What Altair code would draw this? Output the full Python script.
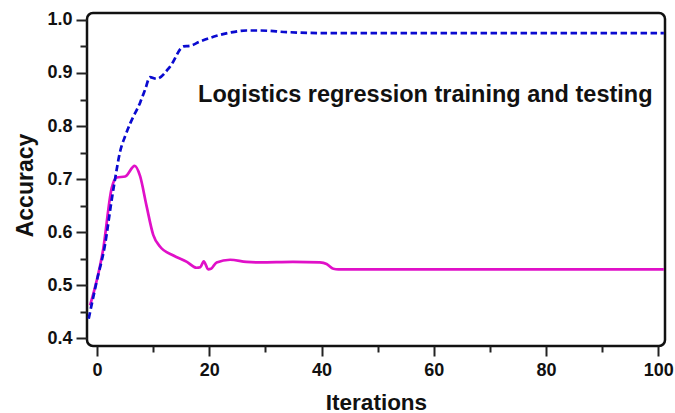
import altair as alt
import pandas as pd

# ---- data ----
train_iter = [-1.5, -0.1, 1.4, 2.6, 3.2, 4.1, 5.0, 5.9, 7.7, 8.6, 9.4, 10.6,
              13.0, 15.4, 16.5, 18.3, 21.3, 23.7, 26.6, 29.0, 33.8, 40.9,
              50, 60, 70, 80, 90, 101]
train_acc = [0.437, 0.506, 0.576, 0.661, 0.700, 0.752, 0.781, 0.805, 0.845, 0.870,
             0.892, 0.889, 0.912, 0.950, 0.951, 0.959, 0.970, 0.976, 0.980, 0.980,
             0.977, 0.975, 0.975, 0.975, 0.975, 0.975, 0.975, 0.975]

test_iter = [-1.25, 1.1, 2.6, 3.5, 5.0, 6.7, 7.65, 8.8, 10.0, 11.2, 13.6, 16.0,
             17.7, 18.4, 19.0, 19.8, 20.3, 21.3, 23.7, 26.6, 29.0, 34.9, 39.7,
             40.9, 42.1, 43.0, 50, 60, 70, 80, 90, 101]
test_acc = [0.462, 0.569, 0.683, 0.703, 0.705, 0.725, 0.706, 0.650, 0.595, 0.573,
            0.556, 0.544, 0.533, 0.534, 0.545, 0.530, 0.531, 0.543, 0.548, 0.544,
            0.543, 0.544, 0.543, 0.540, 0.531, 0.530, 0.530, 0.530, 0.530, 0.530,
            0.530, 0.530]

x_ticks = list(range(0, 101, 10))
y_ticks = [round(0.4 + 0.05 * i, 2) for i in range(13)]

annotation_text = ["Logistics regression training and testing"]
annotation_x = [18.0]
annotation_y = [0.846]

x_title = "Iterations"
y_title = "Accuracy"

# ---- build ----
train_df = pd.DataFrame({"it": train_iter, "acc": train_acc})
test_df = pd.DataFrame({"it": test_iter, "acc": test_acc})
ann_df = pd.DataFrame({"it": annotation_x, "acc": annotation_y, "t": annotation_text})

FONT = "Liberation Sans"

x_scale = alt.Scale(domain=[-1.8, 101.2], nice=False, zero=False)
y_scale = alt.Scale(domain=[0.3855, 1.013], nice=False, zero=False)

x_axis = alt.Axis(
    values=x_ticks,
    labelExpr="datum.value % 20 == 0 ? datum.label : ''",
    tickSize={"condition": {"test": "datum.value % 20 == 0", "value": 10}, "value": 6},
    tickWidth=2, tickColor="#222", domain=False, grid=False,
    labelFont=FONT, labelFontSize=18, labelFontWeight="bold", labelColor="#111",
    labelPadding=5,
    title=x_title, titleFont=FONT, titleFontSize=22.5, titleFontWeight="bold",
    titleColor="#111", titleBaseline="alphabetic", titleY=63,
)
major_y = "abs(datum.value*10 - round(datum.value*10)) < 0.001"
y_axis = alt.Axis(
    values=y_ticks,
    labelExpr=f"{major_y} ? format(datum.value, '.1f') : ''",
    tickSize={"condition": {"test": major_y, "value": 11}, "value": 7},
    tickWidth=2, tickColor="#222", domain=False, grid=False,
    labelFont=FONT, labelFontSize=18, labelFontWeight="bold", labelColor="#111",
    labelPadding=4,
    title=y_title, titleFont=FONT, titleFontSize=23, titleFontWeight="bold",
    titleColor="#111", titleBaseline="alphabetic", titleAngle=270,
    titleX=-55, titleY=172, titleAlign="center",
)

train = alt.Chart(train_df).mark_line(
    color="#0a0ad0", strokeWidth=2.7, strokeDash=[6.5, 3.5], interpolate="monotone", clip=True
).encode(
    x=alt.X("it:Q", scale=x_scale, axis=x_axis),
    y=alt.Y("acc:Q", scale=y_scale, axis=y_axis),
)

test = alt.Chart(test_df).mark_line(
    color="#e010c8", strokeWidth=2.7, interpolate="monotone", clip=True
).encode(
    x=alt.X("it:Q", scale=x_scale, axis=x_axis),
    y=alt.Y("acc:Q", scale=y_scale, axis=y_axis),
)

ann = alt.Chart(ann_df).mark_text(
    align="left", baseline="alphabetic", font=FONT, fontSize=23.5,
    fontWeight="bold", color="#111"
).encode(
    x=alt.X("it:Q", scale=x_scale, axis=x_axis),
    y=alt.Y("acc:Q", scale=y_scale, axis=y_axis),
    text="t:N",
)

chart = alt.layer(test, train, ann).properties(
    width=578, height=333,
    autosize=alt.AutoSizeParams(type="none"),
    padding={"left": 87, "top": 13, "right": 10, "bottom": 67},
    background="white",
).configure_view(
    stroke="#111", strokeWidth=2.5, cornerRadius=6
)

chart.save("out.html", embed_options={"renderer": "svg", "actions": False})
